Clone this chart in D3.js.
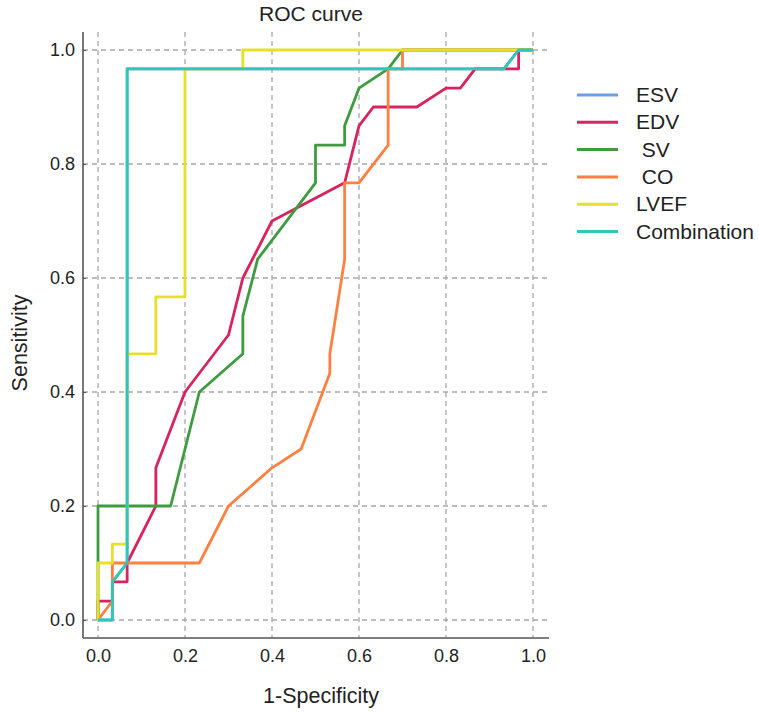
<!DOCTYPE html>
<html>
<head>
<meta charset="utf-8">
<script src="https://cdn.jsdelivr.net/npm/d3@7"></script>
<style>
  body { margin: 0; background: #fff; }
  svg text { font-family: "Liberation Sans", Arial, sans-serif; fill: #222; }
</style>
</head>
<body>
<div id="chart"></div>
<script>
// ROC points, [1-specificity, sensitivity]
var esvPoints = [[0,0],[0.033,0],[0.033,0.067],[0.067,0.1],[0.067,0.967],[0.933,0.967],[0.967,1],[1,1]];
var edvPoints = [[0,0],[0,0.033],[0.033,0.033],[0.033,0.067],[0.067,0.067],[0.067,0.1],[0.133,0.2],[0.133,0.267],
    [0.2,0.4],[0.3,0.5],[0.333,0.6],[0.4,0.7],[0.567,0.767],[0.6,0.867],[0.633,0.9],[0.733,0.9],[0.8,0.933],
    [0.833,0.933],[0.867,0.967],[0.967,0.967],[0.967,1],[1,1]];
var svPoints = [[0,0],[0,0.2],[0.167,0.2],[0.233,0.4],[0.333,0.467],[0.333,0.533],[0.367,0.633],[0.5,0.767],
    [0.5,0.833],[0.567,0.833],[0.567,0.867],[0.6,0.933],[0.667,0.967],[0.7,1],[1,1]];
var coPoints = [[0,0],[0.033,0.033],[0.033,0.1],[0.233,0.1],[0.3,0.2],[0.4,0.267],[0.467,0.3],[0.533,0.433],
    [0.533,0.467],[0.567,0.633],[0.567,0.767],[0.6,0.767],[0.667,0.833],[0.667,0.967],[0.7,0.967],[0.7,1],[1,1]];
var lvefPoints = [[0,0],[0,0.1],[0.033,0.1],[0.033,0.133],[0.067,0.133],[0.067,0.467],[0.133,0.467],[0.133,0.567],
    [0.2,0.567],[0.2,0.967],[0.333,0.967],[0.333,1],[1,1]];
var combPoints = [[0,0],[0.033,0],[0.033,0.067],[0.067,0.1],[0.067,0.967],[0.933,0.967],[0.967,1],[1,1]];

var seriesNames = ["ESV", "EDV", "SV", "CO", "LVEF", "Combination"];
var legendLabels = ["ESV", "EDV", " SV", " CO", "LVEF", "Combination"];
var seriesPoints = [esvPoints, edvPoints, svPoints, coPoints, lvefPoints, combPoints];
var seriesColors = ["#6a9fe0", "#d8235e", "#3f9b3f", "#ff8040", "#e6e02a", "#2ec8b8"];
var tickValues = [0, 0.2, 0.4, 0.6, 0.8, 1.0];

var svgWidth = 759;
var svgHeight = 713;
var margin = { top: 32, left: 83 };
var width = 466;   // plot box
var height = 606;

var svg = d3.select("#chart")
    .append("svg")
    .attr("width", svgWidth)
    .attr("height", svgHeight);

var chartGroup = svg.append("g")
    .attr("transform", `translate(${margin.left}, ${margin.top})`);

var xScale = d3.scaleLinear().domain([0, 1]).range([15, 450]);
var yScale = d3.scaleLinear().domain([0, 1]).range([588, 18]);

// dashed grid
chartGroup.append("g")
    .selectAll("line")
    .data(tickValues)
    .enter()
    .append("line")
    .attr("x1", d => xScale(d)).attr("x2", d => xScale(d))
    .attr("y1", 0).attr("y2", height)
    .attr("stroke", "#a8a8a8").attr("stroke-width", 1.3).attr("stroke-dasharray", "5,4");

chartGroup.append("g")
    .selectAll("line")
    .data(tickValues)
    .enter()
    .append("line")
    .attr("y1", d => yScale(d)).attr("y2", d => yScale(d))
    .attr("x1", 0).attr("x2", width)
    .attr("stroke", "#a8a8a8").attr("stroke-width", 1.3).attr("stroke-dasharray", "5,4");

// axes
var bottomAxis = d3.axisBottom(xScale).tickValues(tickValues).tickFormat(d3.format(".1f"))
    .tickSize(0).tickPadding(11);
var leftAxis = d3.axisLeft(yScale).tickValues(tickValues).tickFormat(d3.format(".1f"))
    .tickSizeInner(-3).tickSizeOuter(0).tickPadding(8);

var xAxisG = chartGroup.append("g")
    .attr("transform", `translate(0, ${height})`)
    .call(bottomAxis);
var yAxisG = chartGroup.append("g")
    .call(leftAxis);

[xAxisG, yAxisG].forEach(function (g) {
    g.select(".domain").remove();
    g.selectAll("text").style("font-size", "18px").attr("fill", "#333");
    g.selectAll("line").attr("stroke", "#555");
});

chartGroup.append("line")
    .attr("x1", 0).attr("x2", 0).attr("y1", 0).attr("y2", height)
    .attr("stroke", "#555").attr("stroke-width", 1.6);
chartGroup.append("line")
    .attr("x1", 0).attr("x2", width).attr("y1", height).attr("y2", height)
    .attr("stroke", "#555").attr("stroke-width", 1.6);

// ROC curves
var line = d3.line()
    .x(d => xScale(d[0]))
    .y(d => yScale(d[1]));

chartGroup.append("g")
    .selectAll("path")
    .data(seriesPoints)
    .enter()
    .append("path")
    .attr("d", d => line(d))
    .attr("fill", "none")
    .attr("stroke", (d, i) => seriesColors[i])
    .attr("stroke-width", 2.8)
    .attr("stroke-linejoin", "round");

// title + axis labels
svg.append("text")
    .attr("x", 311).attr("y", 21)
    .attr("text-anchor", "middle")
    .style("font-size", "21px")
    .text("ROC curve");

svg.append("text")
    .attr("x", 321).attr("y", 703)
    .attr("text-anchor", "middle")
    .style("font-size", "21.5px")
    .text("1-Specificity");

svg.append("text")
    .attr("transform", "translate(27, 343) rotate(-90)")
    .attr("text-anchor", "middle")
    .style("font-size", "21.5px")
    .text("Sensitivity");

// legend
var legend = svg.append("g")
    .attr("transform", "translate(577, 95)");

var rows = legend.selectAll("g")
    .data(seriesNames)
    .enter()
    .append("g")
    .attr("transform", (d, i) => `translate(0, ${i * 27.3})`);

rows.append("line")
    .attr("x1", 0).attr("x2", 41)
    .attr("y1", 0).attr("y2", 0)
    .attr("stroke", (d, i) => seriesColors[i])
    .attr("stroke-width", 3);

rows.append("text")
    .attr("x", 59).attr("y", 7)
    .attr("xml:space", "preserve")
    .style("white-space", "pre")
    .style("font-size", "21px")
    .text((d, i) => legendLabels[i]);
</script>
</body>
</html>
